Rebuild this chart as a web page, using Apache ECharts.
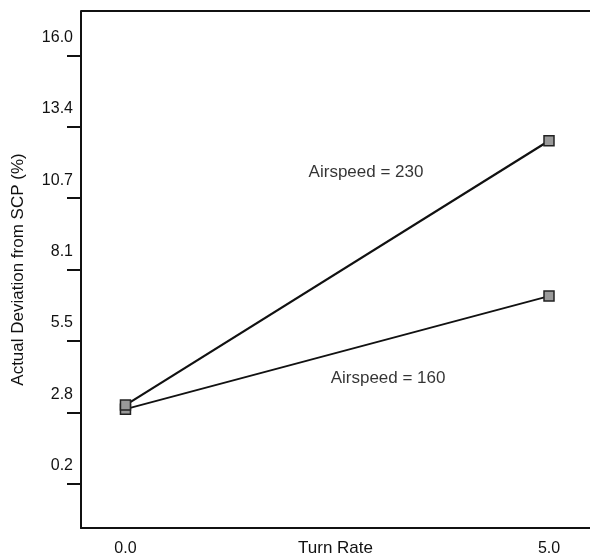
<!DOCTYPE html>
<html>
<head>
<meta charset="utf-8">
<script src="https://cdn.jsdelivr.net/npm/echarts@6/dist/echarts.min.js"></script>
<style>html,body{margin:0;padding:0;background:#fff}#c{width:590px;height:560px}</style>
</head>
<body>
<div id="c"></div>
<script>
const turnRates = [0, 5];
const airspeed230 = [3.1, 12.85];
const airspeed160 = [2.95, 7.12];
const yTickValues = [0.2, 2.8333, 5.4667, 8.1, 10.7333, 13.3667, 16.0];
const xTickValues = [0, 5];
const annotationLabels = ['Airspeed = 230', 'Airspeed = 160'];
const annotationX = [2.84, 3.10];
const annotationY = [11.69, 4.10];

const font = 'Liberation Sans, Arial, sans-serif';
const chart = echarts.init(document.getElementById('c'));
function pairs(xs, ys) { return xs.map((x, i) => [x, ys[i]]); }
const lineSeries = (name, ys, w) => ({
  name, type: 'line', data: pairs(turnRates, ys),
  symbol: 'rect', symbolSize: 10,
  lineStyle: { color: '#111', width: w },
  itemStyle: { color: '#9a9a9a', borderColor: '#222', borderWidth: 1.5 },
  z: 3
});
chart.setOption({
  animation: false,
  grid: { left: 81, right: 0, top: 11, bottom: 32, containLabel: false, outerBoundsMode: 'none' },
  xAxis: {
    type: 'value', min: -0.525, max: 5.484,
    name: 'Turn Rate', nameLocation: 'middle', nameGap: 12, nameMoveOverlap: false,
    nameTextStyle: { fontFamily: font, fontSize: 17, color: '#111' },
    axisLine: { show: true, onZero: false, lineStyle: { color: '#111', width: 2 } },
    axisTick: { show: false },
    splitLine: { show: false },
    axisLabel: { customValues: xTickValues, formatter: v => v.toFixed(1), fontFamily: font, fontSize: 16, color: '#111', margin: 13 }
  },
  yAxis: {
    type: 'value', min: -1.4333, max: 17.6333,
    name: 'Actual Deviation from SCP (%)', nameLocation: 'middle', nameGap: 54, nameMoveOverlap: false,
    nameTextStyle: { fontFamily: font, fontSize: 17, color: '#111' },
    axisLine: { show: true, onZero: false, lineStyle: { color: '#111', width: 2 } },
    axisTick: { show: true, customValues: yTickValues, inside: false, length: 14, lineStyle: { color: '#111', width: 2 } },
    splitLine: { show: false },
    axisLabel: { customValues: yTickValues, formatter: v => v.toFixed(1), fontFamily: font, fontSize: 16, color: '#111', margin: 8, verticalAlign: 'bottom', padding: [0, 0, 10, 0] }
  },
  graphic: [{
    type: 'line', shape: { x1: 81, y1: 11, x2: 590, y2: 11 }, style: { stroke: '#111', lineWidth: 2 }
  }],
  series: [
    lineSeries('Airspeed = 160', airspeed160, 1.7),
    lineSeries('Airspeed = 230', airspeed230, 2.2),
    {
      name: 'annotations', type: 'scatter', symbolSize: 0, silent: true,
      data: annotationLabels.map((t, i) => ({ value: [annotationX[i], annotationY[i]], name: t })),
      label: { show: true, position: 'inside', formatter: p => p.name, fontFamily: font, fontSize: 17, color: '#000', textBorderWidth: 0 }
    }
  ]
});
</script>
</body>
</html>
